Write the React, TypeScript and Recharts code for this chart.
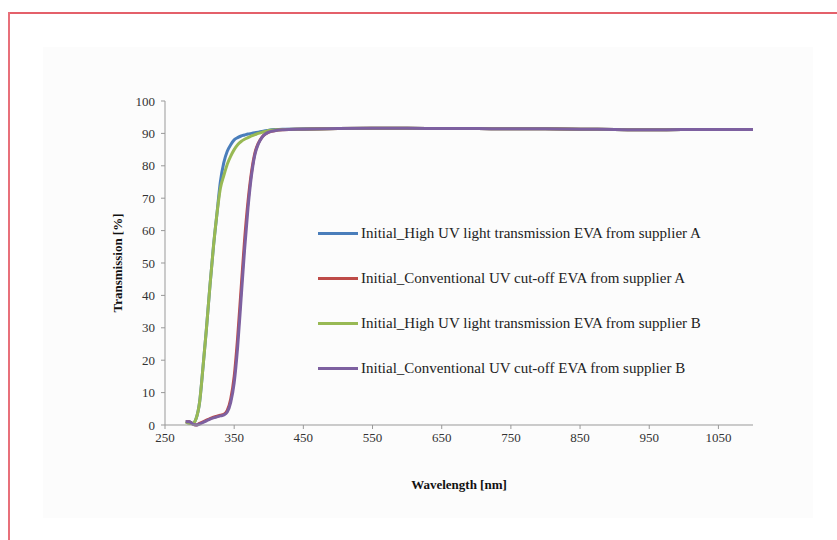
import * as React from 'react';
import { LineChart, Line, XAxis, YAxis, Label } from 'recharts';

const wavelengths = [
  280, 285, 290, 295, 300, 305, 310, 315, 320, 325, 330, 335, 340, 345, 350, 355, 360, 365, 370, 375,
  380, 385, 390, 395, 400, 410, 420, 450, 500, 550, 600, 650, 700, 750, 800, 850, 900, 950, 1000, 1050, 1100,
];

const highUvA = [
  1, 1, 0.5, 2, 7, 18, 30, 43, 55, 65, 75, 81, 84.5, 86.5, 88, 88.7, 89.2, 89.5, 89.8, 90,
  90.2, 90.4, 90.6, 90.8, 91, 91.2, 91.3, 91.4, 91.5, 91.6, 91.6, 91.5, 91.5, 91.4, 91.4, 91.3, 91.2, 91.1, 91.2, 91.2, 91.2,
];

const convA = [
  1, 1, 0.3, 0, 0.5, 1, 1.5, 2, 2.4, 2.7, 3, 3.3, 4.5, 8, 15, 27, 42, 57, 69, 78,
  84, 87, 88.8, 89.8, 90.4, 90.9, 91.1, 91.3, 91.5, 91.6, 91.6, 91.5, 91.5, 91.4, 91.4, 91.3, 91.2, 91.1, 91.2, 91.2, 91.2,
];

const highUvB = [
  1, 0.5, 0.5, 2, 7, 18, 30, 43, 55, 65, 73, 77, 80.5, 83, 85, 86.5, 87.5, 88.2, 88.7, 89.2,
  89.6, 90, 90.3, 90.6, 90.9, 91.1, 91.2, 91.3, 91.5, 91.6, 91.6, 91.5, 91.5, 91.4, 91.4, 91.3, 91.2, 91.1, 91.2, 91.2, 91.2,
];

const convB = [
  1, 1, 0.3, 0, 0.3, 0.8, 1.3, 1.8, 2.2, 2.5, 2.8, 3.1, 4, 7, 13, 24, 39, 54, 67, 77,
  83.5, 86.8, 88.7, 89.8, 90.4, 90.9, 91.1, 91.3, 91.5, 91.6, 91.6, 91.5, 91.5, 91.4, 91.4, 91.3, 91.2, 91.1, 91.2, 91.2, 91.2,
];

const xTicks = [250, 350, 450, 550, 650, 750, 850, 950, 1050];
const yTicks = [0, 10, 20, 30, 40, 50, 60, 70, 80, 90, 100];

const series = [
  { key: 'highUvA', name: 'Initial_High UV light transmission EVA from supplier A', color: '#4a7ebb' },
  { key: 'convA', name: 'Initial_Conventional UV cut-off EVA from supplier A', color: '#be4b48' },
  { key: 'highUvB', name: 'Initial_High UV light transmission EVA from supplier B', color: '#98b954' },
  { key: 'convB', name: 'Initial_Conventional UV cut-off EVA from supplier B', color: '#7d60a0' },
];

const data = wavelengths.map((wl, i) => ({
  wl,
  highUvA: highUvA[i],
  convA: convA[i],
  highUvB: highUvB[i],
  convB: convB[i],
}));

const serif = '"Liberation Serif", "Times New Roman", serif';
const tickStyle = { fontFamily: serif, fontSize: 13, fill: '#333' };

function LegendBox() {
  return (
    <div style={{ position: 'absolute', left: 318, top: 222, fontFamily: serif, fontSize: 15, color: '#222' }}>
      {series.map((s) => (
        <div key={s.key} style={{ display: 'flex', alignItems: 'center', height: 22, marginBottom: 23 }}>
          <div style={{ width: 40, height: 3, background: s.color, marginRight: 3 }} />
          <span style={{ whiteSpace: 'nowrap' }}>{s.name}</span>
        </div>
      ))}
    </div>
  );
}

export default function App() {
  return (
    <div style={{ position: 'absolute', left: 0, top: 0, width: 837, height: 540, background: '#fff' }}>
      <div style={{ position: 'absolute', left: 8, top: 12, width: 829, height: 2, background: '#e4606a' }} />
      <div style={{ position: 'absolute', left: 8, top: 12, width: 2, height: 528, background: '#e8707a' }} />
      <div style={{ position: 'absolute', left: 43, top: 47, width: 770, height: 471, background: '#fcfcfc' }} />
      <div style={{ position: 'absolute', left: 0, top: 0 }}>
        <LineChart width={837} height={540} data={data} margin={{ top: 101, right: 84, bottom: 85, left: 105 }}>
          <XAxis
            dataKey="wl"
            type="number"
            domain={[250, 1100]}
            ticks={xTicks}
            interval={0}
            tick={tickStyle}
            tickSize={4}
            tickMargin={4}
            stroke="#999"
            height={30}
          >
            <Label
              value="Wavelength [nm]"
              position="insideBottom"
              offset={-34}
              style={{ fontFamily: serif, fontSize: 13, fontWeight: 'bold', fill: '#111' }}
            />
          </XAxis>
          <YAxis
            domain={[0, 100]}
            ticks={yTicks}
            interval={0}
            tick={tickStyle}
            tickSize={4}
            tickMargin={6}
            stroke="#999"
            width={60}
          >
            <Label
              value="Transmission [%]"
              angle={-90}
              position="insideLeft"
              offset={12}
              style={{ fontFamily: serif, fontSize: 13, fontWeight: 'bold', fill: '#111', textAnchor: 'middle' }}
            />
          </YAxis>
          {series.map((s) => (
            <Line
              key={s.key}
              dataKey={s.key}
              name={s.name}
              stroke={s.color}
              strokeWidth={3}
              dot={false}
              type="monotone"
              isAnimationActive={false}
            />
          ))}
        </LineChart>
      </div>
      <LegendBox />
    </div>
  );
}
